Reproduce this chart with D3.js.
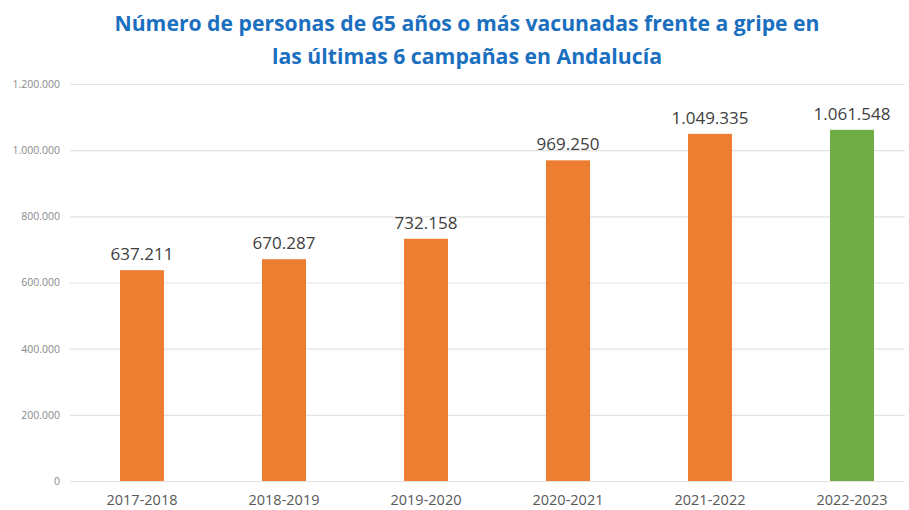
<!DOCTYPE html>
<html>
<head>
<meta charset="utf-8">
<script src="https://cdn.jsdelivr.net/npm/d3@7"></script>
<style>
  body { margin: 0; background: #fff; }
  svg { display: block; }
</style>
</head>
<body>
<div id="chart"></div>
<script>
var campaigns = ["2017-2018", "2018-2019", "2019-2020", "2020-2021", "2021-2022", "2022-2023"];
var vaccinated = [637211, 670287, 732158, 969250, 1049335, 1061548];
var barColors = ["#ed7d31", "#ed7d31", "#ed7d31", "#ed7d31", "#ed7d31", "#70ad47"];
var yTicks = [0, 200000, 400000, 600000, 800000, 1000000, 1200000];
var titleLines = [
  "Número de personas de 65 años o más vacunadas frente a gripe en",
  "las últimas 6 campañas en Andalucía"
];

var width = 909, height = 510;

// spanish number format: 1.049.335
var es = d3.formatLocale({ decimal: ",", thousands: ".", grouping: [3], currency: ["", " €"] });
var fmt = es.format(",d");

var svg = d3.select("#chart")
  .append("svg")
  .attr("width", width)
  .attr("height", height);

var x = d3.scaleBand()
  .domain(campaigns)
  .range([71, 923])
  .paddingInner(0.69)
  .paddingOuter(0.345);

var y = d3.scaleLinear()
  .domain([0, 1200000])
  .range([481, 84]);

// gridlines + y labels
var yAxis = d3.axisLeft(y)
  .tickValues(yTicks)
  .tickFormat(fmt)
  .tickSize(-(905 - 70))
  .tickPadding(10);

var gy = svg.append("g")
  .attr("transform", "translate(70,0)")
  .call(yAxis);

gy.select(".domain").remove();
gy.selectAll(".tick line")
  .attr("stroke", "#e3e3e3")
  .attr("stroke-width", 1.2);
gy.selectAll(".tick text")
  .attr("fill", "#8a8a8a")
  .attr("font-family", "Open Sans")
  .attr("font-size", 10.5);

// bars
svg.selectAll(".bar")
  .data(vaccinated)
  .enter()
  .append("rect")
  .attr("class", "bar")
  .attr("x", function(d, i) { return x(campaigns[i]); })
  .attr("y", function(d) { return y(d); })
  .attr("width", x.bandwidth())
  .attr("height", function(d) { return y(0) - y(d); })
  .attr("fill", function(d, i) { return barColors[i]; });

// value labels
svg.selectAll(".val")
  .data(vaccinated)
  .enter()
  .append("text")
  .attr("class", "val")
  .attr("x", function(d, i) { return x(campaigns[i]) + x.bandwidth() / 2; })
  .attr("y", function(d) { return y(d) - 10; })
  .attr("text-anchor", "middle")
  .attr("font-family", "Open Sans")
  .attr("font-size", 17)
  .attr("fill", "#404040")
  .text(function(d) { return fmt(d); });

// category labels
svg.selectAll(".cat")
  .data(campaigns)
  .enter()
  .append("text")
  .attr("class", "cat")
  .attr("x", function(d) { return x(d) + x.bandwidth() / 2; })
  .attr("y", 505)
  .attr("text-anchor", "middle")
  .attr("font-family", "Open Sans")
  .attr("font-size", 14.5)
  .attr("fill", "#595959")
  .text(function(d) { return d; });

// title
var titleWidths = [705, 390];
svg.selectAll(".title")
  .data(titleLines)
  .enter()
  .append("text")
  .attr("class", "title")
  .attr("x", 467)
  .attr("y", function(d, i) { return 31 + i * 33; })
  .attr("text-anchor", "middle")
  .attr("font-family", "Open Sans")
  .attr("font-weight", "bold")
  .attr("font-size", 22)
  .attr("fill", "#1b6fbf")
  .attr("textLength", function(d, i) { return titleWidths[i]; })
  .attr("lengthAdjust", "spacingAndGlyphs")
  .text(function(d) { return d; });
</script>
</body>
</html>
